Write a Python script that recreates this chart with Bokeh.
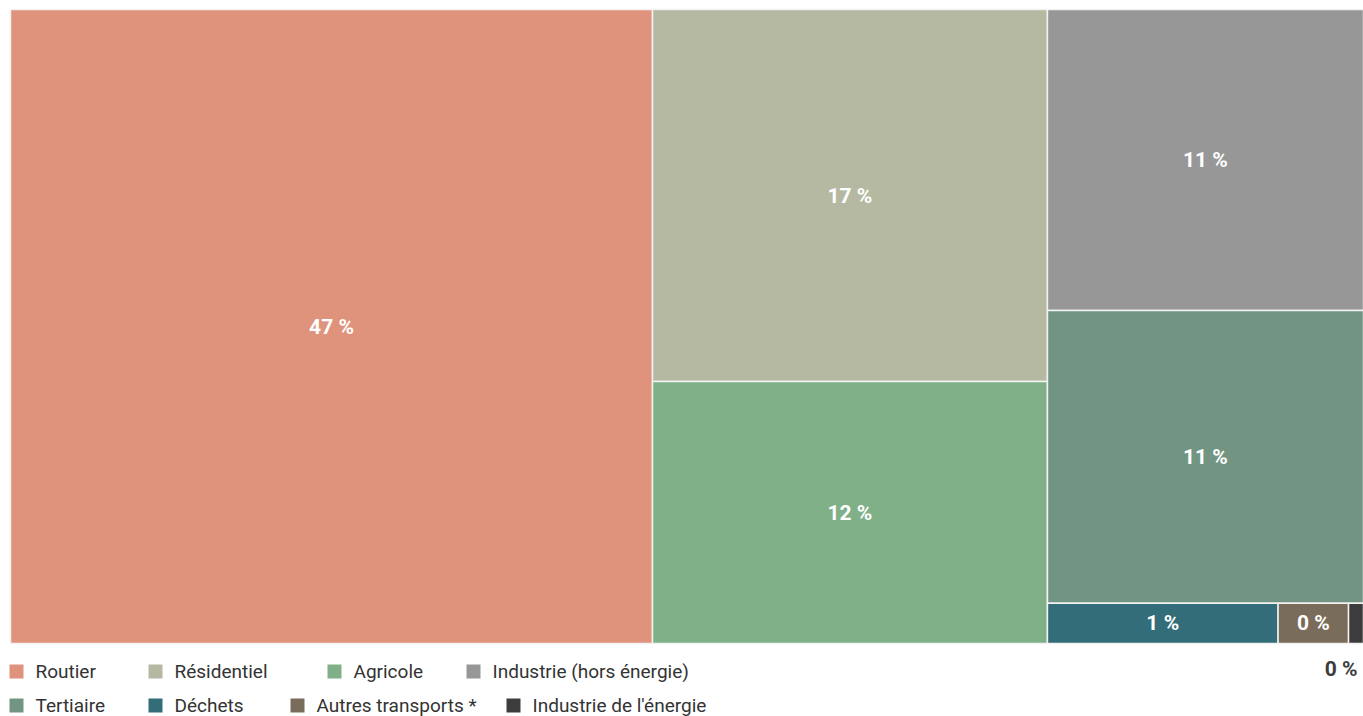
from bokeh.plotting import figure
from bokeh.models import Range1d, ColumnDataSource
from bokeh.core.properties import value
from bokeh.embed import file_html
from bokeh.resources import INLINE

# ---- data (shares, %) ----
categories = ["Routier", "Résidentiel", "Agricole", "Industrie (hors énergie)",
              "Tertiaire", "Déchets", "Autres transports *", "Industrie de l'énergie"]
shares = [47.45, 17.13, 12.06, 11.09, 10.79, 1.08, 0.33, 0.07]
colors = ["#E0937C", "#B6B9A2", "#7FB088", "#979797",
          "#729583", "#326D79", "#7A6C5A", "#3C3C3C"]

# ---- squarified treemap layout ----
def worst(row, w):
    s = sum(row)
    return max(max(w * w * r / (s * s), (s * s) / (w * w * r)) for r in row)

def squarify(vals, x, y, w, h):
    total = sum(vals)
    areas = [v * w * h / total for v in vals]
    rects = []
    i = 0
    while i < len(areas):
        short = min(w, h)
        row = [areas[i]]
        j = i + 1
        while j < len(areas) and worst(row + [areas[j]], short) <= worst(row, short):
            row.append(areas[j])
            j += 1
        s = sum(row)
        if w >= h:  # lay column on the left
            cw = s / h
            yy = y
            for a in row:
                rh = a / cw
                rects.append((x, yy, x + cw, yy + rh))
                yy += rh
            x += cw
            w -= cw
        else:  # lay row on top
            rh = s / w
            xx = x
            for a in row:
                rw = a / rh
                rects.append((xx, y, xx + rw, y + rh))
                xx += rw
            y += rh
            h -= rh
        i = j
    return rects

X0, Y0, W, H = 10, 9, 1353, 634
rects = squarify(shares, X0, Y0, W, H)

src = ColumnDataSource(dict(
    left=[r[0] for r in rects], right=[r[2] for r in rects],
    top=[r[1] for r in rects], bottom=[r[3] for r in rects],
    color=colors, name=categories))

p = figure(width=1363, height=716, output_backend="svg", toolbar_location=None,
           x_range=Range1d(0, 1363), y_range=Range1d(716, 0),
           min_border=0, min_border_left=0, min_border_right=0,
           min_border_top=0, min_border_bottom=0)
p.axis.visible = False
p.grid.visible = False
p.outline_line_color = None
p.background_fill_color = "white"
p.border_fill_color = "white"

p.quad(left="left", right="right", top="top", bottom="bottom", source=src,
       fill_color="color", line_color="#F2F2F2", line_width=1.5)

# labels
in_x, in_y, in_t = [], [], []
out_x, out_y, out_t, out_c = [], [], [], []
for r, v, c in zip(rects, shares, colors):
    lab = f"{round(v)} %"
    if r[2] - r[0] < 40:
        out_x.append(X0 + W - 6)
        out_y.append(r[3] + 25)
        out_t.append(lab)
        out_c.append(c)
    else:
        in_x.append((r[0] + r[2]) / 2)
        in_y.append((r[1] + r[3]) / 2)
        in_t.append(lab)

p.text(x=in_x, y=in_y, text=in_t, text_color="white", text_font=value("Roboto"),
       text_font_style="bold", text_font_size="21px", text_align="center",
       text_baseline="middle")
p.text(x=out_x, y=out_y, text=out_t, text_color=out_c, text_font=value("Roboto"),
       text_font_style="bold", text_font_size="21px", text_align="right",
       text_baseline="middle")

# legend (flow layout, two rows)
leg_sq_x = [16, 155, 334, 473, 16, 155, 297, 513]
leg_y = [671, 671, 671, 671, 705, 705, 705, 705]
p.scatter(x=leg_sq_x, y=leg_y, marker="square", size=14, fill_color=colors,
          line_color=None)
p.text(x=[x + 19 for x in leg_sq_x], y=leg_y, text=categories, text_color="#333333",
       text_font=value("Roboto"), text_font_size="19px", text_align="left",
       text_baseline="middle")

open("out.html", "w").write(file_html(p, INLINE))
